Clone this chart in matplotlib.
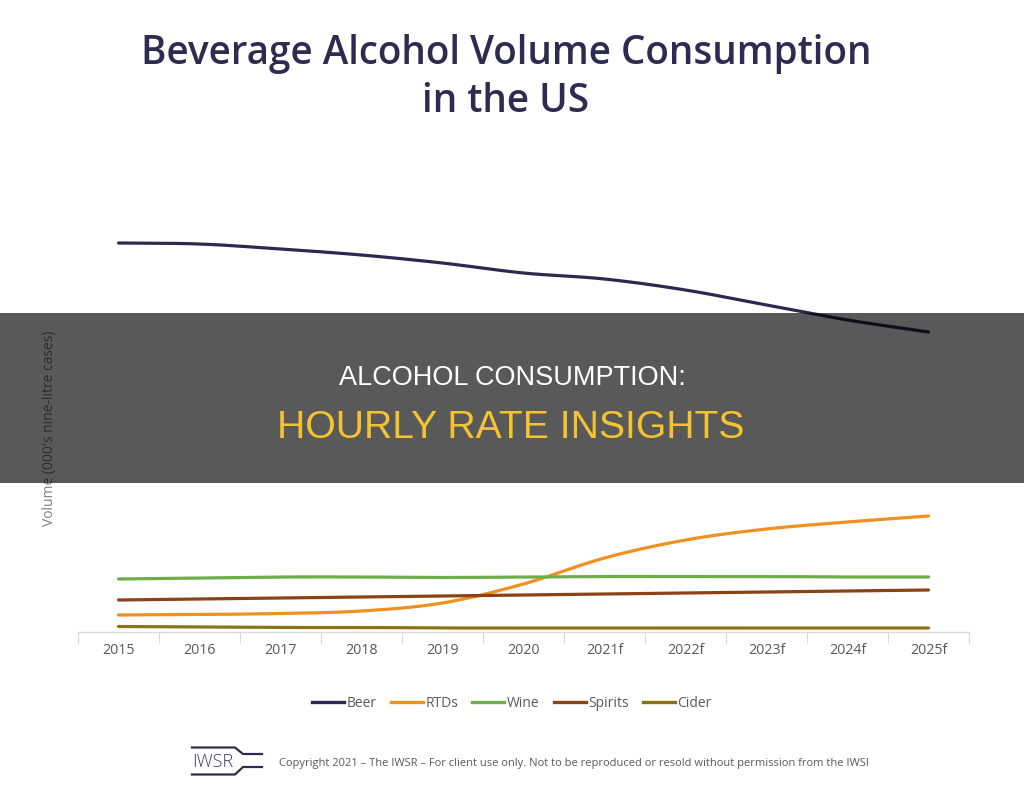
import numpy as np
import matplotlib
matplotlib.use("Agg")
import matplotlib.pyplot as plt
from matplotlib import font_manager
from matplotlib.patches import Rectangle
from matplotlib.lines import Line2D

# ---------------- data ----------------
years = ["2015", "2016", "2017", "2018", "2019", "2020",
         "2021f", "2022f", "2023f", "2024f", "2025f"]
beer = [2723000, 2716000, 2681000, 2639000, 2583000, 2513000,
        2471000, 2394000, 2289000, 2184000, 2100000]
rtds = [119000, 122500, 129500, 147000, 203000, 336000,
        518000, 644000, 721000, 770000, 812000]
wine = [371000, 378000, 385000, 385000, 381500, 385000,
        388500, 388500, 388500, 385000, 385000]
spirits = [224000, 231000, 238000, 245000, 252000, 259000,
           266000, 273000, 280000, 287000, 294000]
cider = [38500, 35000, 31500, 31500, 28000, 28000,
         28000, 28000, 28000, 28000, 28000]
series_names = ["Beer", "RTDs", "Wine", "Spirits", "Cider"]
series_values = [beer, rtds, wine, spirits, cider]
series_colors = ["#2b2950", "#f0901e", "#6fad4a", "#8a4216", "#8c7317"]

title_line1 = "Beverage Alcohol Volume Consumption"
title_line2 = "in the US"
ylabel = "Volume (000's nine-litre cases)"
copyright_text = ("Copyright 2021 \u2013 The IWSR \u2013 For client use only. "
                  "Not to be reproduced or resold without permission from the IWSR")
overlay_line1 = "ALCOHOL CONSUMPTION:"
overlay_line2 = "HOURLY RATE INSIGHTS"

# ---------------- fonts ----------------
avail = {f.name for f in font_manager.fontManager.ttflist}
base_font = "Open Sans" if "Open Sans" in avail else "DejaVu Sans"
overlay_font = "Liberation Sans" if "Liberation Sans" in avail else "DejaVu Sans"
plt.rcParams["font.family"] = [base_font, "DejaVu Sans"]

W, H = 1024, 805
fig = plt.figure(figsize=(W / 100, H / 100), dpi=100)
fig.patch.set_facecolor("white")


def fx(px):
    return px / W


def fy(py):
    return 1 - py / H


# axes: x from 78 to 969 px, baseline at 632 px, top at 180 px
ax = fig.add_axes([fx(78), fy(632), fx(969) - fx(78), (632 - 180) / H])
ax.set_xlim(-0.5, len(years) - 0.5)
ax.set_ylim(0, (632 - 180) * 7000)


def smooth(xs, ys, n=20):
    xs = np.asarray(xs, float)
    ys = np.asarray(ys, float)
    px = np.concatenate([[2 * xs[0] - xs[1]], xs, [2 * xs[-1] - xs[-2]]])
    py = np.concatenate([[2 * ys[0] - ys[1]], ys, [2 * ys[-1] - ys[-2]]])
    ox, oy = [], []
    for i in range(1, len(px) - 2):
        t = np.linspace(0, 1, n, endpoint=False)
        for arr, out in ((px, ox), (py, oy)):
            p0, p1, p2, p3 = arr[i - 1], arr[i], arr[i + 1], arr[i + 2]
            out.extend(0.5 * ((2 * p1) + (-p0 + p2) * t +
                              (2 * p0 - 5 * p1 + 4 * p2 - p3) * t ** 2 +
                              (-p0 + 3 * p1 - 3 * p2 + p3) * t ** 3))
    ox.append(xs[-1])
    oy.append(ys[-1])
    return np.array(ox), np.array(oy)


x = np.arange(len(years))
handles = []
for name, vals, col in zip(series_names, series_values, series_colors):
    sx, sy = smooth(x, vals)
    ax.plot(sx, sy, color=col, lw=2.3, solid_capstyle="round", zorder=3)
    handles.append(Line2D([0], [0], color=col, lw=2.4, label=name))

for s in ["top", "right", "left"]:
    ax.spines[s].set_visible(False)
ax.spines["bottom"].set_color("#d9d9d9")
ax.spines["bottom"].set_linewidth(1.0)
ax.set_yticks([])
ax.set_xticks(x)
ax.set_xticklabels(years)
ax.tick_params(axis="x", which="major", length=0, pad=8, labelsize=10.3,
               labelcolor="#595959")
ax.set_xticks(np.arange(-0.5, len(years), 1.0), minor=True)
ax.tick_params(axis="x", which="minor", length=8, width=0.8, color="#d9d9d9")
ax.set_facecolor("none")

# y label
fig.text(fx(50), fy(428), ylabel, rotation=90, ha="center", va="center",
         fontsize=10, color="#7f7f7f")

# title
fig.text(fx(506), fy(64), title_line1, ha="center", va="baseline", fontsize=27.8,
         fontweight="semibold", color="#2e2b50")
fig.text(fx(506), fy(112), title_line2, ha="center", va="baseline", fontsize=27.8,
         fontweight="semibold", color="#2e2b50")

# legend
fig.legend(handles=handles, loc="center", bbox_to_anchor=(fx(512), fy(703)),
           ncol=5, frameon=False, fontsize=10, handlelength=2.3,
           handletextpad=0.2, columnspacing=1.0, labelcolor="#595959")

# IWSR logo
fig.text(fx(192), fy(762), "IWSR", ha="left", va="center", fontsize=13,
         color="#3e3c5c", fontweight="light")
logo_col = "#2e2b50"
top = [(fx(192), fy(747.5)), (fx(235), fy(747.5)), (fx(243), fy(754)),
       (fx(262), fy(754))]
bot = [(fx(192), fy(774.5)), (fx(235), fy(774.5)), (fx(243), fy(767)),
       (fx(262), fy(767))]
for pts in (top, bot):
    fig.add_artist(Line2D([p[0] for p in pts], [p[1] for p in pts],
                          color=logo_col, lw=1.6, transform=fig.transFigure))

ct = fig.text(fx(279), fy(763), copyright_text, ha="left", va="center",
              fontsize=8.0, color="#595959")
clip = Rectangle((0, 0), fx(868), 1, transform=fig.transFigure)
ct.set_clip_path(clip)

# overlay band
band = Rectangle((0, fy(483)), 1, (483 - 313) / H, transform=fig.transFigure,
                 facecolor="black", alpha=0.65, edgecolor="none", zorder=10)
fig.add_artist(band)
fig.text(fx(512), fy(385), overlay_line1, ha="center", va="baseline",
         fontsize=19.5, color="white", family=overlay_font, zorder=11)
fig.text(fx(511), fy(438), overlay_line2, ha="center", va="baseline",
         fontsize=28.2, color="#f4c430", family=overlay_font, zorder=11)

fig.savefig("out.png", dpi=100, facecolor="white")
